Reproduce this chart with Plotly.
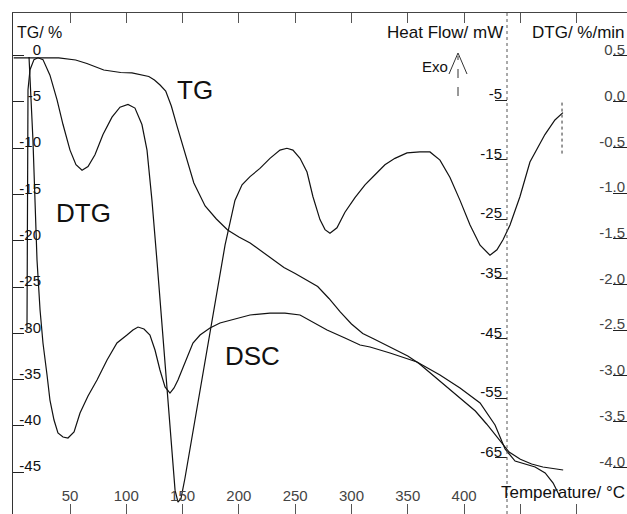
import plotly.graph_objects as go

# ---------------- data ----------------
temp_tg = [0, 25, 40, 55, 65, 80, 95, 105, 115, 120, 125, 130, 135, 140, 145,
           150, 155, 160, 170, 180, 190, 200, 210, 220, 230, 240, 250, 260, 270,
           280, 290, 300, 310, 320, 330, 340, 350, 360, 370, 380, 390, 400, 410,
           420, 430, 440, 450, 460, 470, 480, 488]
tg = [-0.24, -0.24, -0.24, -0.46, -0.84, -1.54, -1.81, -1.86, -2.08, -2.24,
      -2.62, -3.16, -3.81, -5.43, -7.59, -9.65, -11.92, -13.76, -16.24, -17.65,
      -18.84, -19.59, -20.24, -21.11, -21.97, -22.89, -23.54, -24.24, -24.95,
      -26.24, -27.70, -29.00, -30.03, -30.62, -31.22, -31.81, -32.46, -33.27,
      -34.30, -35.38, -36.35, -37.43, -38.41, -39.81, -41.32, -42.84, -43.62,
      -44.14, -44.46, -44.68, -44.78]

temp_dsc = [13.6, 15.4, 17.1, 18.9, 20.7, 23.4, 26.0, 29.6, 32.2, 35.8, 39.3,
            43.8, 48.2, 53.6, 58.9, 66.0, 74.0, 82.9, 91.7, 100.6, 105.9, 110.4,
            115.7, 121.0, 125.5, 129.9, 134.4, 138.8, 142.4, 145.9, 152.1, 159.2,
            165.5, 174.3, 183.2, 196.5, 209.9, 227.6, 240.9, 254.3, 267.6, 278.3,
            294.2, 307.6, 316.5, 334.2, 358.2, 378.6, 396.4, 414.2, 427.5, 436.4,
            445.3, 454.2, 463.1, 472.0, 479.1, 485.3]
heat_flow = [2.21, -5.00, -11.71, -21.78, -31.85, -40.23, -45.77, -51.14, -55.34,
             -58.69, -60.87, -61.54, -61.71, -60.70, -57.52, -54.66, -51.98,
             -48.62, -45.77, -44.43, -43.59, -43.09, -43.42, -44.43, -46.95,
             -50.30, -53.15, -54.16, -53.32, -51.98, -48.96, -45.77, -44.43,
             -43.26, -42.42, -41.74, -41.07, -40.74, -40.74, -41.07, -42.42,
             -43.59, -44.93, -46.11, -46.44, -47.45, -48.96, -51.14, -53.32,
             -55.84, -59.53, -63.56, -65.57, -66.07, -66.58, -67.58, -69.26,
             -71.61]

temp_dtg = [11.8, 12.0, 12.2, 12.3, 12.7, 14.5, 18.0, 21.6, 26.0, 32.2, 38.5,
            43.8, 50.0, 55.3, 60.7, 66.0, 72.2, 79.3, 87.3, 94.4, 101.5, 107.7,
            113.9, 118.4, 122.8, 127.3, 131.7, 136.1, 140.6, 143.3, 145.9, 148.6,
            152.1, 161.0, 169.9, 178.8, 187.7, 196.5, 202.8, 209.9, 218.7, 227.6,
            236.5, 242.7, 248.0, 254.3, 260.5, 265.8, 272.0, 276.5, 280.9, 287.1,
            294.2, 303.1, 312.0, 320.9, 329.7, 338.6, 349.3, 360.8, 369.7, 378.6,
            387.5, 396.4, 405.3, 414.2, 423.0, 429.2, 434.6, 440.8, 449.6, 458.5,
            471.8, 480.7, 487.8]
dtg = [-2.50, -1.62, -0.86, -0.20, 0.13, 0.35, 0.46, 0.48, 0.46, 0.29, 0.02,
       -0.25, -0.53, -0.69, -0.75, -0.71, -0.58, -0.36, -0.17, -0.06, -0.03,
       -0.07, -0.25, -0.53, -1.08, -1.75, -2.44, -3.15, -3.87, -4.25, -4.38,
       -4.34, -4.12, -3.48, -2.83, -2.17, -1.57, -1.08, -0.91, -0.82, -0.73,
       -0.62, -0.53, -0.51, -0.53, -0.62, -0.77, -1.04, -1.29, -1.40, -1.44,
       -1.38, -1.21, -1.05, -0.91, -0.80, -0.69, -0.62, -0.56, -0.55, -0.55,
       -0.64, -0.83, -1.08, -1.35, -1.57, -1.68, -1.62, -1.51, -1.35, -1.04,
       -0.66, -0.36, -0.20, -0.12]

dtg_end_temp = [487.0, 487.0]
dtg_end = [-0.01, -0.58]

x_ticks = [50, 100, 150, 200, 250, 300, 350, 400, 450, 500]
x_tick_text = ["50", "100", "150", "200", "250", "300", "350", "400", "", ""]
tg_ticks = [0, -5, -10, -15, -20, -25, -30, -35, -40, -45]
tg_tick_text = ["0", "-5", "-10", "-15", "-20", "-25", "-30", "-35", "-40", "-45"]
hf_ticks = [-5, -15, -25, -35, -45, -55, -65]
hf_tick_text = ["-5", "-15", "-25", "-35", "-45", "-55", "-65"]
dtg_ticks = [0.5, 0.0, -0.5, -1.0, -1.5, -2.0, -2.5, -3.0, -3.5, -4.0]
dtg_tick_text = ["0.5", "0.0", "-0.5", "-1.0", "-1.5", "-2.0", "-2.5", "-3.0",
                 "-3.5", "-4.0"]

x_range = [-0.62, 544.7]
tg_range = [-49.54, 4.62]
hf_range = [-74.46, 9.60]
dtg_range = [-4.511, 0.970]

# ---------------- figure ----------------
FONT = "Liberation Sans, Arial, sans-serif"
INK = "#111111"
line = dict(color=INK, width=1.2)

fig = go.Figure()
# TG drawn on the framed left axis (y4); an invisible copy carries the label axis (y)
fig.add_trace(go.Scatter(x=temp_tg, y=tg, mode="lines", line=line,
                         xaxis="x", yaxis="y4", name="TG", hoverinfo="skip"))
fig.add_trace(go.Scatter(x=temp_tg, y=tg, mode="lines", line=line, opacity=0,
                         xaxis="x", yaxis="y", hoverinfo="skip"))
fig.add_trace(go.Scatter(x=temp_dsc, y=heat_flow, mode="lines", line=line,
                         xaxis="x", yaxis="y2", name="DSC", hoverinfo="skip"))
fig.add_trace(go.Scatter(x=temp_dtg, y=dtg, mode="lines", line=line,
                         xaxis="x", yaxis="y3", name="DTG", hoverinfo="skip"))
fig.add_trace(go.Scatter(x=dtg_end_temp, y=dtg_end, mode="lines",
                         line=dict(color="#333", width=1, dash="dot"),
                         xaxis="x", yaxis="y3", hoverinfo="skip"))

noax = dict(showgrid=False, zeroline=False, automargin=False)

fig.update_layout(
    width=627, height=514,
    margin=dict(l=13, r=0, t=13, b=0, autoexpand=False),
    paper_bgcolor="white", plot_bgcolor="white",
    showlegend=False,
    font=dict(family=FONT, size=15, color=INK),
    # bottom axis: inward ticks, labels inside; mirrored as the top frame line
    xaxis=dict(range=x_range, tickvals=x_ticks, ticktext=x_tick_text,
               ticks="inside", ticklen=10, tickcolor="#555",
               ticklabelposition="inside", showline=True, mirror="ticks",
               linecolor="#444", linewidth=1, **noax),
    # TG axis labels (placed just right of the frame line)
    yaxis=dict(range=tg_range, anchor="free", position=0.0456, side="left",
               tickvals=tg_ticks, ticktext=tg_tick_text, ticks="",
               showline=False, ticklabelshift=-6, **noax),
    # left frame line with inward ticks for the TG scale
    yaxis4=dict(overlaying="y", range=tg_range, anchor="x", side="left",
                tickvals=tg_ticks, ticks="inside", ticklen=11,
                tickcolor="#222", showticklabels=False, showline=True,
                linecolor="#333", linewidth=1, **noax),
    yaxis2=dict(overlaying="y", range=hf_range, anchor="free",
                position=0.8046, side="left", tickvals=hf_ticks,
                ticktext=hf_tick_text, ticks="outside", ticklen=12,
                tickcolor="#222", ticklabelstandoff=-10, ticklabelshift=-6,
                showline=False, **noax),
    yaxis3=dict(overlaying="y", range=dtg_range, anchor="free", position=1.0,
                side="right", tickvals=dtg_ticks, ticktext=dtg_tick_text,
                ticks="inside", ticklen=14, tickcolor="#222",
                ticklabelposition="inside", ticklabelstandoff=-12,
                ticklabelshift=-6, showline=False, **noax),
)

def px(x):
    return (x - 13) / 614.0

def py(y):
    return (514 - y) / 501.0

# dotted heat-flow axis line
fig.add_shape(type="line", xref="paper", yref="paper",
              x0=px(507), x1=px(507), y0=0, y1=1,
              line=dict(color="#555", width=1, dash="dot"))
# Exo arrow
fig.add_shape(type="line", xref="paper", yref="paper",
              x0=px(458), x1=px(458), y0=py(96), y1=py(56),
              line=dict(color="#333", width=1, dash="dash"))
fig.add_shape(type="path", xref="paper", yref="paper",
              path=f"M {px(449)},{py(74)} L {px(458)},{py(53)} L {px(467)},{py(74)}",
              line=dict(color="#333", width=1))

def label(text, x, y, size, xanchor="center"):
    fig.add_annotation(text=text, xref="paper", yref="paper", x=x, y=y,
                       xanchor=xanchor, yanchor="middle", showarrow=False,
                       font=dict(family=FONT, size=size, color=INK))

label("TG/ %", px(15), py(33), 16, "left")
label("Heat Flow/ mW", px(505), py(32), 17, "right")
label("DTG/ %/min", 1.0, py(33), 17, "right")
label("Exo", px(435), py(66), 15)
label("Temperature/ °C", 1.0, py(492), 17, "right")
label("TG", px(195), py(90), 26)
label("DTG", px(83), py(213), 26)
label("DSC", px(252), py(356), 26)

fig.write_html(
    "out.html",
    config={"displayModeBar": False, "staticPlot": True},
    post_script="document.body.style.margin='0';document.body.style.overflow='hidden';",
)
